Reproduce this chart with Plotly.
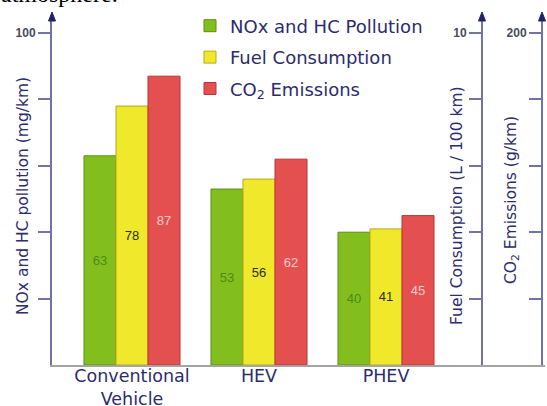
import plotly.graph_objects as go

# ---- data ----
categories = ["Conventional Vehicle", "HEV", "PHEV"]
tick_labels = ["Conventional<br>Vehicle", "HEV", "PHEV"]
series_names = ["NOx and HC Pollution", "Fuel Consumption", "CO<sub>2</sub> Emissions"]
nox_hc = [63, 53, 40]
fuel = [78, 56, 41]
co2 = [87, 62, 45]

left_ticks = [20, 40, 60, 80, 100]
left_ticktext = ["", "", "", "", "100"]
fuel_ticks = [2, 4, 6, 8, 10]
fuel_ticktext = ["", "", "", "", "10"]
co2_ticks = [40, 80, 120, 160, 200]
co2_ticktext = ["", "", "", "", "200"]

# ---- style ----
W, H = 547, 406
NAVY = "#2c2c6e"
AXC = "#7272a8"
fills = ["#82bf1e", "#f0e82a", "#e45050"]
edges = ["#5d8f12", "#b9a81c", "#b83434"]
label_colors = ["#4e8a14", "#2e2e10", "#f7cccc"]
FONT = "DejaVu Sans"

def px(x):
    return x / W

def py(y):
    return 1 - y / H

x_left, x_right = 52, 545
y_bottom, y_top = 365, 20
scale = 3.32  # px per unit on left axis
ytop_val = (y_bottom - y_top) / scale

fig = go.Figure()
for name, vals, fc, ec, lc in zip(series_names, [nox_hc, fuel, co2], fills, edges, label_colors):
    fig.add_trace(go.Bar(
        x=categories, y=vals, name=name, text=[str(v) for v in vals],
        textposition="inside", insidetextanchor="middle", textangle=0,
        constraintext="none",
        textfont=dict(family="Liberation Sans", size=13, color=lc),
        marker=dict(color=fc, line=dict(color=ec, width=1)),
        legendgroup=name, hoverinfo="skip",
    ))

# empty traces so the extra axes are drawn
fig.add_trace(go.Scatter(x=[None], y=[None], yaxis="y2", showlegend=False, hoverinfo="skip"))
fig.add_trace(go.Scatter(x=[None], y=[None], yaxis="y3", showlegend=False, hoverinfo="skip"))

tickfont = dict(family="Liberation Sans", size=12, color="#4a4a5a", weight="bold")

common_y = dict(showline=True, linecolor=AXC, linewidth=2, ticks="outside", ticklen=12,
                tickwidth=1.5, tickcolor=AXC, showgrid=False, zeroline=False,
                tickfont=tickfont, domain=[py(y_bottom), py(y_top)], fixedrange=True,
                automargin=False)

fig.update_layout(
    width=W, height=H, autosize=False,
    margin=dict(l=0, r=0, t=0, b=0, autoexpand=False),
    paper_bgcolor="white", plot_bgcolor="white",
    barmode="group", bargap=0.244, bargroupgap=0,
    xaxis=dict(
        type="category", categoryorder="array", categoryarray=categories,
        tickvals=categories, ticktext=tick_labels,
        range=[-(132 - x_left) / 127, (x_right - 132) / 127],
        domain=[px(x_left), px(x_right)],
        showline=True, linecolor="#a4a4a4", linewidth=2, ticks="",
        tickfont=dict(family=FONT, size=17.5, color=NAVY),
        ticklabelstandoff=-6,
        showgrid=False, zeroline=False, fixedrange=True, automargin=False,
    ),
    yaxis=dict(range=[0, ytop_val], tickvals=left_ticks, ticktext=left_ticktext, **common_y),
    yaxis2=dict(range=[0, ytop_val / 10], tickvals=fuel_ticks, ticktext=fuel_ticktext,
                overlaying="y", anchor="free", position=px(482), side="left", **common_y),
    yaxis3=dict(range=[0, ytop_val * 2], tickvals=co2_ticks, ticktext=co2_ticktext,
                overlaying="y", anchor="free", position=px(542), side="left", **common_y),
    legend=dict(
        x=px(190), y=py(7.5), xanchor="left", yanchor="top",
        font=dict(family=FONT, size=18, color=NAVY),
        traceorder="grouped", tracegroupgap=5, bgcolor="rgba(0,0,0,0)",
    ),
    showlegend=True,
)

# axis titles
titles = [
    ("NOx and HC pollution (mg/km)", 23, 196),
    ("Fuel Consumption (L / 100 km)", 457, 205),
    ("CO<sub>2</sub> Emissions (g/km)", 512, 200),
]
for t, xx, yy in titles:
    fig.add_annotation(text=t, x=px(xx), y=py(yy), xref="paper", yref="paper",
                       textangle=-90, showarrow=False, xanchor="center", yanchor="middle",
                       font=dict(family=FONT, size=15.5, color=NAVY))

# arrowheads at top of vertical axes
for ax_x in [52, 482, 542]:
    path = "M {},{} L {},{} L {},{} Z".format(
        px(ax_x), py(12), px(ax_x - 3.5), py(21), px(ax_x + 3.5), py(21))
    fig.add_shape(type="path", path=path, xref="paper", yref="paper",
                  fillcolor="#22226a", line=dict(color="#22226a", width=1))

# cut-off text at top of image
fig.add_annotation(text="atmosphere.", x=px(-1), y=py(9), xref="paper", yref="paper",
                   xanchor="left", yanchor="bottom", showarrow=False,
                   font=dict(family="Liberation Serif", size=24, color="black"))

fig.write_html("out.html", config={"displayModeBar": False},
               post_script="document.body.style.margin='0';document.body.style.padding='0';")
